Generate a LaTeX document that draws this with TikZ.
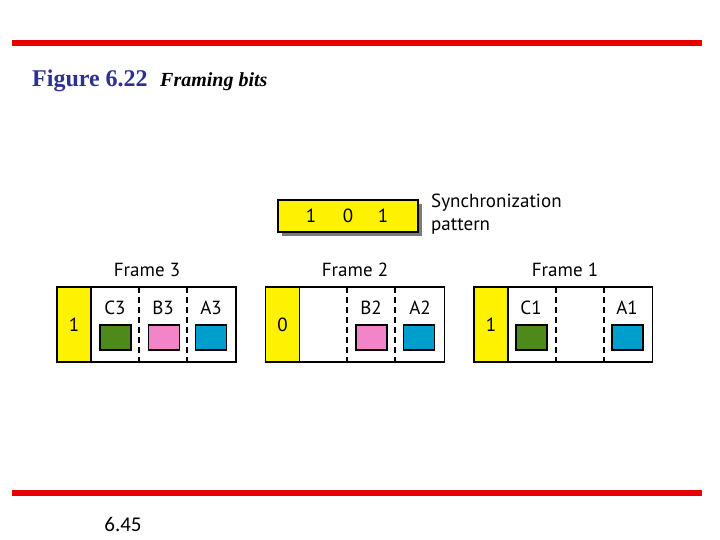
\documentclass[tikz,border=0pt]{standalone}
\usepackage{fontspec}
\setmainfont{Liberation Serif}
\newfontfamily\diagfont{PT Sans}
\newfontfamily\numfont{Carlito}
\usetikzlibrary{shadows}
\definecolor{barred}{RGB}{230,0,0}
\definecolor{titleblue}{RGB}{46,49,146}
\definecolor{bitgreen}{RGB}{78,138,26}
\definecolor{bitpink}{RGB}{242,132,200}
\definecolor{bitblue}{RGB}{0,158,204}
\begin{document}
\begin{tikzpicture}[x=1pt,y=-1pt,
  frame/.style={draw, line width=1.4pt, minimum width=179pt, minimum height=75pt, inner sep=0pt},
  flag/.style={draw, line width=1.4pt, fill=yellow, minimum width=34pt, minimum height=75pt, inner sep=0pt, font=\diagfont\fontsize{19}{23}\selectfont},
  slot/.style={draw, line width=1.2pt, minimum width=31pt, minimum height=25pt, inner sep=0pt},
  lbl/.style={font=\diagfont\fontsize{19}{23}\selectfont, inner sep=0pt},
  sep/.style={line width=1.4pt, dash pattern=on 6pt off 4pt}
]
\useasboundingbox (0,0) rectangle (720,540);
\fill[barred] (12,40) rectangle (702,46);
\fill[barred] (12,490) rectangle (702,496);
\node[anchor=base west, inner sep=0pt] (title) at (32,87) {\fontsize{24}{28}\selectfont\bfseries\color{titleblue}Figure 6.22};
\node[anchor=base west, inner sep=0pt] (subtitle) at (160,87) {\fontsize{20}{24}\selectfont\bfseries\itshape Framing bits};
\node[anchor=base, inner sep=0pt] (page) at (123,531) {\numfont\fontsize{21}{24}\selectfont 6.45};

% synchronization pattern
\node[draw, line width=1.4pt, fill=yellow, minimum width=140pt, minimum height=32pt, inner sep=0pt,
  drop shadow={shadow xshift=4pt, shadow yshift=-4pt, fill=black!65, opacity=0.8}] (sync) at (348,216) {};
\node[lbl] (s1) at (311,216) {1};
\node[lbl] (s0) at (348,216) {0};
\node[lbl] (s2) at (383,216) {1};
\node[lbl, anchor=west, align=left] (synctext) at (431,214) {Synchronization\\pattern};

% frame 3
\node[lbl] (f3label) at (147,270) {Frame 3};
\node[frame] (f3) at (146.5,324.5) {};
\node[flag] (f3flag) at (74,324.5) {1};
\draw[sep] (139,287) -- (139,362);
\draw[sep] (187,287) -- (187,362);
\node[lbl] (c3) at (115,308) {C3};
\node[lbl] (b3) at (163,308) {B3};
\node[lbl] (a3) at (211,308) {A3};
\node[slot, fill=bitgreen] (c3box) at (115.5,337.5) {};
\node[slot, fill=bitpink] (b3box) at (164,337.5) {};
\node[slot, fill=bitblue] (a3box) at (211,337.5) {};

% frame 2
\node[lbl] (f2label) at (355,270) {Frame 2};
\node[frame] (f2) at (355,324.5) {};
\node[flag] (f2flag) at (282.5,324.5) {0};
\draw[sep] (347,287) -- (347,362);
\draw[sep] (395,287) -- (395,362);
\node[lbl] (b2) at (371,308) {B2};
\node[lbl] (a2) at (420,308) {A2};
\node[slot, fill=bitpink] (b2box) at (371.5,337.5) {};
\node[slot, fill=bitblue] (a2box) at (419,337.5) {};

% frame 1
\node[lbl] (f1label) at (565,270) {Frame 1};
\node[frame] (f1) at (563,324.5) {};
\node[flag] (f1flag) at (491,324.5) {1};
\draw[sep] (556,287) -- (556,362);
\draw[sep] (604,287) -- (604,362);
\node[lbl] (c1) at (531,308) {C1};
\node[lbl] (a1) at (627,308) {A1};
\node[slot, fill=bitgreen] (c1box) at (531.5,337.5) {};
\node[slot, fill=bitblue] (a1box) at (627.5,337.5) {};
\end{tikzpicture}
\end{document}
